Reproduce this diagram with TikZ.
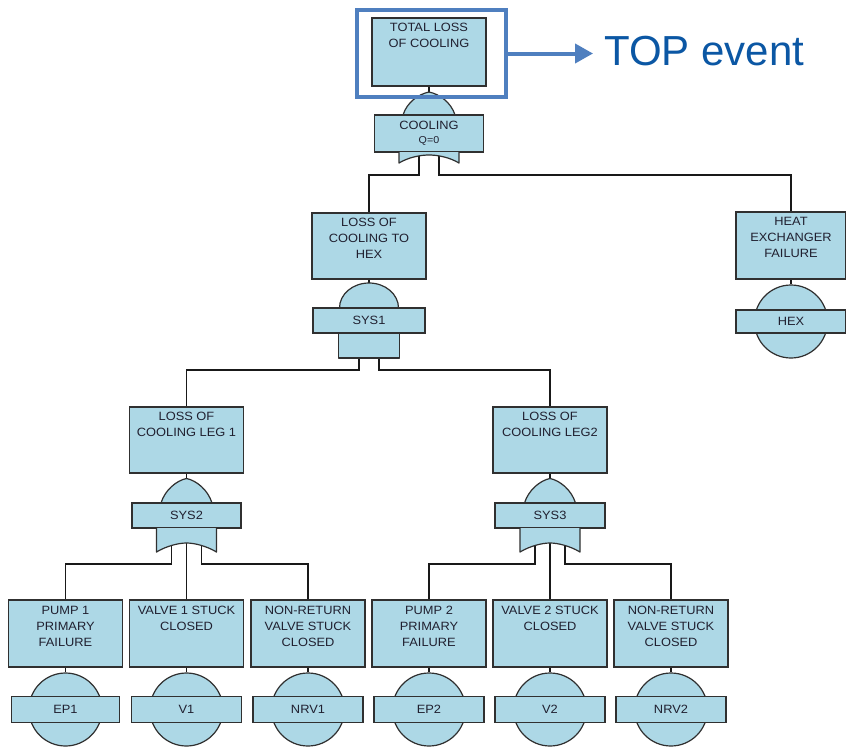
\documentclass[tikz,border=0pt]{standalone}
\usepackage{fontspec}
\setmainfont{Liberation Sans}
\newfontfamily\boxfont[FakeStretch=1.07]{Liberation Sans}
\usetikzlibrary{arrows.meta}
\pgfdeclarelayer{bg}
\pgfdeclarelayer{wires}
\pgfsetlayers{bg,wires,main}

\definecolor{ftfill}{HTML}{ADD8E6}
\definecolor{ftline}{HTML}{303030}
\definecolor{fttext}{HTML}{202030}
\definecolor{hilite}{HTML}{4F7FBF}
\definecolor{topblue}{HTML}{0B57A4}

\tikzset{
  evbox/.style={draw=ftline, fill=ftfill, line width=1.2pt, minimum width=114pt,
                minimum height=66pt, inner sep=0pt},
  evtext/.style={anchor=north, inner sep=0pt, align=center, text=fttext,
                 font=\boxfont\fontsize{12}{16}\selectfont},
  tag/.style={draw=ftline, fill=ftfill, line width=1.2pt, minimum width=110pt,
              minimum height=25pt, inner sep=0pt, align=center, text=fttext,
              font=\boxfont\fontsize{12}{15}\selectfont},
  gateshape/.style={draw=ftline, fill=ftfill, line width=1.2pt, line join=round},
  basic/.style={circle, draw=ftline, fill=ftfill, line width=1.2pt,
                minimum size=73pt, inner sep=0pt},
  wire/.style={draw=black!90, line width=1.1pt},
}

\begin{document}
\begin{tikzpicture}[x=1pt, y=-1pt]
\begin{pgfonlayer}{bg}
  \fill[white] (0,0) rectangle (846,747);
\end{pgfonlayer}
\useasboundingbox (0,0) rectangle (846,747);

% ---------- top event and OR gate "COOLING" ----------
\node[evbox, minimum height=68pt] (top) at (429,52) {};
\node[evtext] (top-t) at ([yshift=-6pt]top.north) {TOTAL LOSS\\OF COOLING};

\filldraw[gateshape] (403,115) .. controls (407,102) and (419,94) .. (429,92)
  .. controls (439,94) and (451,102) .. (455,115) -- cycle;
\node[tag, minimum width=109pt, minimum height=37pt] (g0) at (429,133.5)
  {COOLING\\[-1pt]{\fontsize{10}{12}\selectfont Q=0}};
\filldraw[gateshape] (399,152) -- (399,163) .. controls (409,157) and (421,155) .. (429,155)
  .. controls (437,155) and (449,157) .. (459,163) -- (459,152);
\coordinate (g0l) at (419,153);
\coordinate (g0r) at (439,153);

% ---------- second level ----------
\node[evbox] (hexloss) at (369,246) {};
\node[evtext] (hexloss-t) at ([yshift=-6pt]hexloss.north) {LOSS OF\\COOLING TO\\HEX};

\node[evbox, minimum width=110pt, minimum height=67pt] (hexfail) at (791,245.5) {};
\node[evtext] (hexfail-t) at ([yshift=-6pt]hexfail.north) {HEAT\\EXCHANGER\\FAILURE};

% AND gate SYS1
\filldraw[gateshape] (339.5,308) .. controls (339.5,294.2) and (352.7,283) .. (369,283)
  .. controls (385.3,283) and (398.5,294.2) .. (398.5,308) -- cycle;
\node[tag, minimum width=112pt] (sys1) at (369,320.5) {SYS1};
\filldraw[gateshape] (338.5,333) rectangle (399.5,358);
\coordinate (s1l) at (359,340);
\coordinate (s1r) at (379,340);

% basic event HEX
\node[basic] (hexc) at (791,321.5) {};
\node[tag, minimum height=23pt] (hex) at (hexc.center) {HEX};

% ---------- third level ----------
\node[evbox] (leg1) at (186.5,440) {};
\node[evtext] (leg1-t) at ([yshift=-6pt]leg1.north) {LOSS OF\\COOLING LEG 1};
\node[evbox] (leg2) at (550,440) {};
\node[evtext] (leg2-t) at ([yshift=-6pt]leg2.north) {LOSS OF\\COOLING LEG2};

% OR gate SYS2
\filldraw[gateshape] (161,503) .. controls (165,490) and (176.5,480.5) .. (186.5,478.5)
  .. controls (196.5,480.5) and (208,490) .. (212,503) -- cycle;
\node[tag, minimum width=109pt] (sys2) at (186.5,515.5) {SYS2};
\filldraw[gateshape] (156.5,528) -- (156.5,552) .. controls (166.5,546) and (178.5,543) .. (186.5,543)
  .. controls (194.5,543) and (206.5,546) .. (216.5,552) -- (216.5,528);
\coordinate (s2l) at (171.5,530);
\coordinate (s2r) at (201.5,530);

% OR gate SYS3
\filldraw[gateshape] (524.5,503) .. controls (528.5,490) and (540,480.5) .. (550,478.5)
  .. controls (560,480.5) and (571.5,490) .. (575.5,503) -- cycle;
\node[tag] (sys3) at (550,515.5) {SYS3};
\filldraw[gateshape] (520,528) -- (520,552) .. controls (530,546) and (542,543) .. (550,543)
  .. controls (558,543) and (570,546) .. (580,552) -- (580,528);
\coordinate (s3l) at (535,530);
\coordinate (s3r) at (565,530);

% ---------- bottom level: primary events ----------
\node[evbox, minimum height=67pt] (pump1) at (65.5,633.5) {};
\node[evtext] (pump1-t) at ([yshift=-7pt]pump1.north) {PUMP 1\\PRIMARY\\FAILURE};
\node[evbox, minimum height=67pt] (valve1) at (186.5,633.5) {};
\node[evtext] (valve1-t) at ([yshift=-7pt]valve1.north) {VALVE 1 STUCK\\CLOSED};
\node[evbox, minimum height=67pt] (nrv1b) at (308,633.5) {};
\node[evtext] (nrv1b-t) at ([yshift=-7pt]nrv1b.north) {NON-RETURN\\VALVE STUCK\\CLOSED};
\node[evbox, minimum height=67pt] (pump2) at (429,633.5) {};
\node[evtext] (pump2-t) at ([yshift=-7pt]pump2.north) {PUMP 2\\PRIMARY\\FAILURE};
\node[evbox, minimum height=67pt] (valve2) at (550,633.5) {};
\node[evtext] (valve2-t) at ([yshift=-7pt]valve2.north) {VALVE 2 STUCK\\CLOSED};
\node[evbox, minimum height=67pt] (nrv2b) at (671,633.5) {};
\node[evtext] (nrv2b-t) at ([yshift=-7pt]nrv2b.north) {NON-RETURN\\VALVE STUCK\\CLOSED};

\node[basic] (ep1c) at (65.5,709.5) {};
\node[tag, minimum width=108pt, minimum height=26pt] (ep1) at (ep1c.center) {EP1};
\node[basic] (v1c) at (186.5,709.5) {};
\node[tag, minimum height=26pt] (v1) at (v1c.center) {V1};
\node[basic] (nrv1c) at (308,709.5) {};
\node[tag, minimum height=26pt] (nrv1) at (nrv1c.center) {NRV1};
\node[basic] (ep2c) at (429,709.5) {};
\node[tag, minimum height=26pt] (ep2) at (ep2c.center) {EP2};
\node[basic] (v2c) at (550,709.5) {};
\node[tag, minimum height=26pt] (v2) at (v2c.center) {V2};
\node[basic] (nrv2c) at (671,709.5) {};
\node[tag, minimum height=26pt] (nrv2) at (nrv2c.center) {NRV2};

% ---------- connectors (behind the gate symbols) ----------
\begin{pgfonlayer}{wires}
  \draw[wire] (top.south) -- (g0.north);
  \draw[wire] (g0l) -- ++(0,22) -| (hexloss.north);
  \draw[wire] (g0r) -- ++(0,22) -| (hexfail.north);

  \draw[wire] (hexloss.south) -- (sys1.north);
  \draw[wire] (hexfail.south) -- (hexc.north);
  \draw[wire] (s1l) -- ++(0,30) -| (leg1.north);
  \draw[wire] (s1r) -- ++(0,30) -| (leg2.north);

  \draw[wire] (leg1.south) -- (sys2.north);
  \draw[wire] (leg2.south) -- (sys3.north);
  \draw[wire] (s2l) -- ++(0,34) -| (pump1.north);
  \draw[wire] (sys2.south) -- (valve1.north);
  \draw[wire] (s2r) -- ++(0,34) -| (nrv1b.north);
  \draw[wire] (s3l) -- ++(0,34) -| (pump2.north);
  \draw[wire] (sys3.south) -- (valve2.north);
  \draw[wire] (s3r) -- ++(0,34) -| (nrv2b.north);

  \draw[wire] (pump1.south) -- (ep1c.north);
  \draw[wire] (valve1.south) -- (v1c.north);
  \draw[wire] (nrv1b.south) -- (nrv1c.north);
  \draw[wire] (pump2.south) -- (ep2c.north);
  \draw[wire] (valve2.south) -- (v2c.north);
  \draw[wire] (nrv2b.south) -- (nrv2c.north);
\end{pgfonlayer}

% ---------- top event callout ----------
\node[draw=hilite, line width=4pt, minimum width=149pt, minimum height=87pt,
      inner sep=0pt] (hl) at (431.5,53.5) {};
\node[anchor=base west, inner sep=0pt, text=topblue,
      font=\fontsize{42}{50}\selectfont] (tev) at (604,65) {TOP event};
\draw[hilite, line width=4pt, shorten >=11pt,
      -{Triangle[length=18pt, width=19pt]}] (hl.east) -- (hl.east -| tev.west);
\end{tikzpicture}
\end{document}
